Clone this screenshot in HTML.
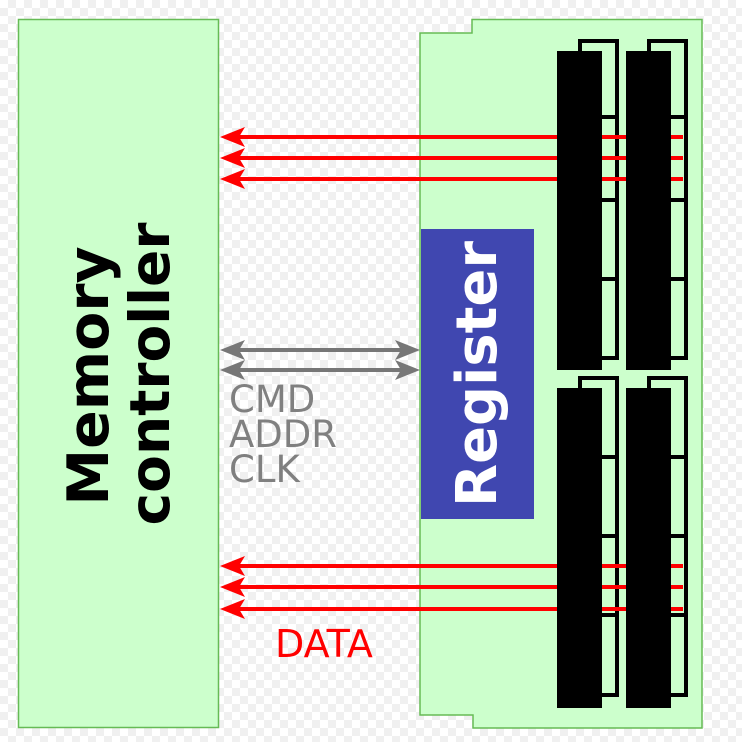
<!DOCTYPE html>
<html><head><style>
html,body{margin:0;padding:0}
body{width:742px;height:742px;overflow:hidden;background-color:#fff;background-image:conic-gradient(#f0f0f0 25%,#fff 0 50%,#f0f0f0 0 75%,#fff 0);background-size:16px 16px}
svg{display:block}
</style></head><body>
<svg width="742" height="742" viewBox="0 0 742 742" xmlns="http://www.w3.org/2000/svg" font-family="DejaVu Sans, Liberation Sans, sans-serif">
<rect x="18.5" y="19.5" width="200" height="708" fill="#ccffcc" stroke="#66bb55" stroke-width="1.5"/>
<path d="M420,33 L472,33 L472,19.5 L702,19.5 L702,728 L473,728 L473,715 L420,715 Z" fill="#ccffcc" stroke="#66bb55" stroke-width="1.5"/>
<g fill="none" stroke="#000" stroke-width="4">
<path d="M580,51 V41 H617 V358 H602"/><path d="M602,117 H617 M602,200 H617 M602,279 H617"/>
<path d="M649,51 V41 H686 V358 H671"/><path d="M671,117 H686 M671,200 H686 M671,279 H686"/>
<path d="M580,388 V378 H617 V695 H602"/><path d="M602,457 H617 M602,536 H617 M602,615 H617"/>
<path d="M649,388 V378 H686 V695 H671"/><path d="M671,457 H686 M671,536 H686 M671,615 H686"/>
</g>
<g stroke="red" stroke-width="4" fill="none">
<line x1="236" y1="137" x2="683" y2="137"/>
<line x1="236" y1="158" x2="683" y2="158"/>
<line x1="236" y1="179" x2="683" y2="179"/>
<line x1="236" y1="566" x2="683" y2="566"/>
<line x1="236" y1="587" x2="683" y2="587"/>
<line x1="236" y1="609" x2="683" y2="609"/>
</g>
<g fill="red">
<path d="M220,137 L245,127 L239,137 L245,147 Z"/>
<path d="M220,158 L245,148 L239,158 L245,168 Z"/>
<path d="M220,179 L245,169 L239,179 L245,189 Z"/>
<path d="M220,566 L245,556 L239,566 L245,576 Z"/>
<path d="M220,587 L245,577 L239,587 L245,597 Z"/>
<path d="M220,609 L245,599 L239,609 L245,619 Z"/>
</g>
<g fill="#000">
<rect x="557" y="51" width="45" height="319"/><rect x="626" y="51" width="45" height="319"/>
<rect x="557" y="388" width="45" height="320"/><rect x="626" y="388" width="45" height="320"/>
</g>
<g stroke="#777" stroke-width="4" fill="none">
<line x1="236" y1="350" x2="404" y2="350"/>
<line x1="236" y1="370" x2="404" y2="370"/>
</g>
<g fill="#777">
<path d="M220,350 L245,340 L239,350 L245,360 Z"/>
<path d="M220,370 L245,360 L239,370 L245,380 Z"/>
<path d="M420,350 L395,340 L401,350 L395,360 Z"/>
<path d="M420,370 L395,360 L401,370 L395,380 Z"/>
</g>
<rect x="421" y="229" width="113" height="290" fill="#4047b0"/>
<text transform="translate(108,376) rotate(-90)" font-size="57" font-weight="bold" text-anchor="middle" fill="#000">Memory</text>
<text transform="translate(169,374) rotate(-90)" font-size="55" font-weight="bold" text-anchor="middle" fill="#000">controller</text>
<text transform="translate(496,374) rotate(-90)" font-size="56" font-weight="bold" text-anchor="middle" fill="#fff">Register</text>
<g font-size="37" fill="#808080">
<text x="229" y="412">CMD</text><text x="229" y="447">ADDR</text><text x="229" y="482">CLK</text>
</g>
<text x="275" y="657" font-size="38" fill="red">DATA</text>
</svg>
</body></html>
